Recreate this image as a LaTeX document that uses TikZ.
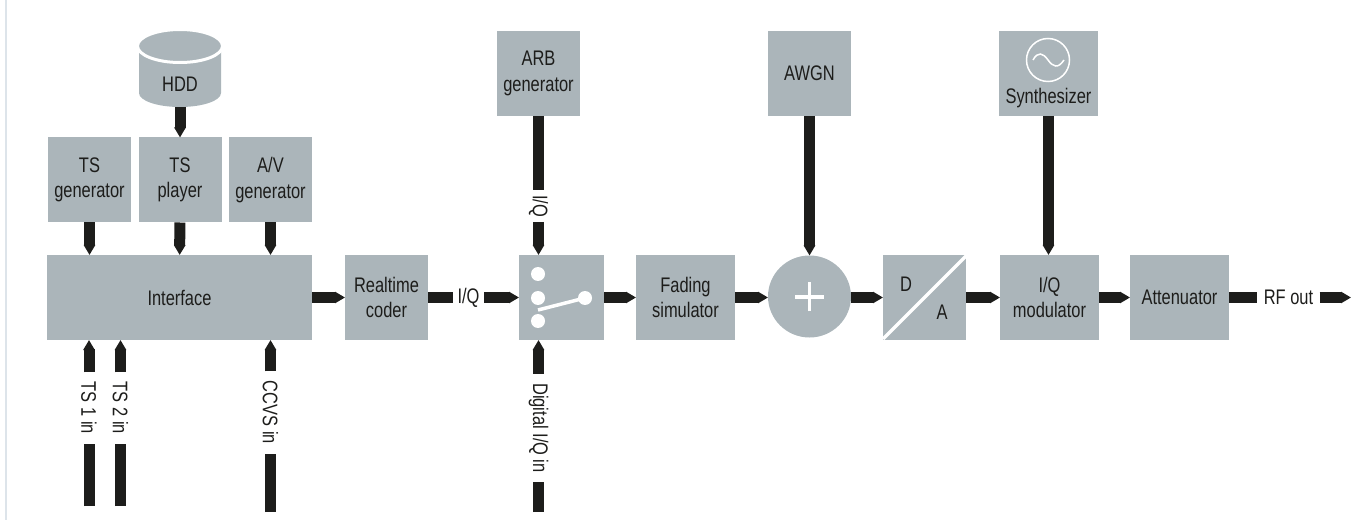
\documentclass[tikz,border=0pt]{standalone}
\usepackage{fontspec}
\setmainfont[FakeStretch=0.78]{Liberation Sans}
\usetikzlibrary{arrows.meta,shapes.geometric}
\definecolor{blockgray}{HTML}{ABB5BA}
\definecolor{sigblack}{HTML}{1D1D1B}
\definecolor{edgeblue}{HTML}{DDE4EA}
\tikzset{
    block/.style={fill=blockgray, text=sigblack, align=center, inner sep=0pt, outer sep=0pt,
        minimum width=16.6mm, minimum height=17mm, font=\fontsize{12}{14.5}\selectfont},
    wideblock/.style={block, minimum width=19.8mm},
    txt/.style={text=sigblack, inner sep=2.8pt, outer sep=0pt, font=\fontsize{12}{14.5}\selectfont},
    vlbl/.style={txt, rotate=-90, inner xsep=5.4pt},
    bar/.style={draw=sigblack, line width=2.2mm},
    sig/.style={bar, -{Triangle[length=2mm,width=2.2mm]}},
    whiteline/.style={draw=white, line width=0.7mm}
}
\begin{document}
\begin{tikzpicture}[x=0.2mm,y=0.2mm]
    \useasboundingbox (0,0) rectangle (1367,520);
    \fill[edgeblue] (5.2,0) rectangle (7.4,520);

    % hdd
    \fill[blockgray] (139,470) -- (139,427) arc[start angle=180, end angle=360, x radius=41, y radius=14] -- (221,470) -- cycle;
    \draw[white, line width=0.6mm, fill=blockgray] (180,474) ellipse [x radius=42.5, y radius=16.5];
    \node[txt] (hdd) at (180,436) {HDD};
    \coordinate (hddout) at (180,413);

    % upper row
    \node[block] (tsgen) at (89.5,340) {TS\\generator};
    \node[block] (tsply) at (180,340) {TS\\player};
    \node[block] (avgen) at (270.5,340) {A/V\\generator};
    \node[block] (arb) at (538.5,446.5) {ARB\\generator};
    \node[block] (awgn) at (809.5,446.5) {AWGN};
    \node[wideblock] (synth) at (1048.5,446.5) {};
    \node[txt] (synthlbl) at (1048.5,422) {Synthesizer};
    \draw[white, line width=0.3mm] (1048,460) circle (21.5);
    \draw[white, line width=0.3mm] (1033,460) .. controls (1038,469) and (1043,467) .. (1048,460) .. controls (1053,453) and (1058,451) .. (1064,460);

    % main row
    \node[block, minimum width=53mm] (iface) at (179.5,222.5) {Interface};
    \node[block] (rtc) at (386.5,222.5) {Realtime\\coder};
    \node[txt] (iqa) at (468.5,222.5) {I/Q};
    \node[block, minimum width=17mm] (sw) at (561.5,222.5) {};
    \node[wideblock] (fad) at (685.5,222.5) {Fading\\simulator};
    \node[ellipse, fill=blockgray, inner sep=0pt, outer sep=0pt, minimum width=16.6mm, minimum height=16.4mm] (sum) at (809.5,223.5) {};
    \draw[white, line width=0.7mm] (795,223) -- (824,223);
    \draw[white, line width=0.7mm] (809.5,208.5) -- (809.5,237.5);
    \node[block] (dac) at (924.5,222.5) {};
    \draw[whiteline] (883,181) -- (967,265);
    \node[txt] (dlbl) at (906,236) {D};
    \node[txt] (albl) at (942,208) {A};
    \node[wideblock] (iqmod) at (1049.5,222.5) {I/Q\\modulator};
    \node[wideblock] (att) at (1179.5,222.5) {Attenuator};
    \node[txt, inner sep=3.7pt] (rflbl) at (1288.5,222.5) {RF out};
    \coordinate (rfend) at (1351,222.5);

    % switch
    \foreach \swy in {246,222,199}
        \fill[white] (538,\swy) circle (7);
    \fill[white] (585,222) circle (7);
    \draw[whiteline] (538,210) -- (585,222);

    % rotated labels
    \node[vlbl] (ts1l) at (89,112) {TS 1 in};
    \node[vlbl] (ts2l) at (120.5,112) {TS 2 in};
    \node[vlbl] (ccvsl) at (270.5,107.5) {CCVS in};
    \node[vlbl] (digl) at (538.5,92) {Digital I/Q in};
    \node[vlbl, inner xsep=2.8pt] (iqv) at (538.5,314) {I/Q};

    \coordinate (ts1s) at (89,14);
    \coordinate (ts2s) at (120.5,14);
    \coordinate (ccvss) at (270.5,8);
    \coordinate (digs) at (538.5,8);

    % connectors
    \draw[sig] (hddout) -- (tsply);
    \draw[sig] (tsgen) -- (tsgen |- iface.north);
    \draw[sig] (tsply) -- (iface);
    \draw[sig] (avgen) -- (avgen |- iface.north);
    \draw[bar] (ts1s) -- (ts1l);
    \draw[bar] (ts2s) -- (ts2l);
    \draw[bar] (ccvss) -- (ccvsl);
    \draw[bar] (digs) -- (digl);
    \draw[sig] (ts1l) -- (ts1l |- iface.south);
    \draw[sig] (ts2l) -- (ts2l |- iface.south);
    \draw[sig] (ccvsl) -- (ccvsl |- iface.south);
    \draw[sig] (digl) -- (digl |- sw.south);
    \draw[bar] (arb) -- (iqv);
    \draw[sig] (iqv) -- (iqv |- sw.north);
    \draw[sig] (awgn) -- (sum);
    \draw[sig] (synth) -- (synth |- iqmod.north);
    \draw[sig] (iface) -- (rtc);
    \draw[bar] (rtc) -- (iqa);
    \draw[sig] (iqa) -- (sw);
    \draw[sig] (sw) -- (fad);
    \draw[sig] (fad) -- (sum.west |- fad);
    \draw[sig] (sum.east |- dac) -- (dac);
    \draw[sig] (dac) -- (iqmod);
    \draw[sig] (iqmod) -- (att);
    \draw[bar] (att) -- (rflbl);
    \draw[sig] (rflbl) -- (rfend);
\end{tikzpicture}
\end{document}
